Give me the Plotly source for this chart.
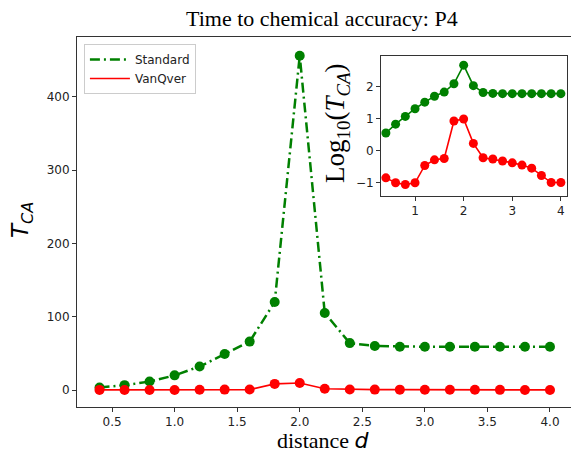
import numpy as np
import plotly.graph_objects as go

distance = [0.4, 0.6, 0.8, 1.0, 1.2, 1.4, 1.6, 1.8, 2.0, 2.2, 2.4, 2.6, 2.8, 3.0, 3.2, 3.4, 3.6, 3.8, 4.0]
standard = [3.5, 6.6, 11.5, 20, 32, 49, 66, 120, 456, 105, 64, 60, 59, 59, 59, 59, 59, 59, 59]
vanqver = [0.14, 0.098, 0.087, 0.098, 0.34, 0.51, 0.56, 8.3, 9.6, 1.66, 0.59, 0.54, 0.47, 0.41,
           0.35, 0.28, 0.166, 0.10, 0.10]

log_standard = list(np.log10(standard))
log_vanqver = list(np.log10(vanqver))

GREEN = "#008000"
RED = "#ff0000"
AX = "#333333"
DASH = "10px,4px,2px,4px"

fig = go.Figure()

# main
fig.add_trace(go.Scatter(x=distance, y=standard, mode="lines+markers", showlegend=False,
                         line=dict(color=GREEN, width=2.5, dash=DASH),
                         marker=dict(color=GREEN, size=10), xaxis="x", yaxis="y"))
fig.add_trace(go.Scatter(x=distance, y=vanqver, mode="lines+markers", showlegend=False,
                         line=dict(color=RED, width=1.6),
                         marker=dict(color=RED, size=10), xaxis="x", yaxis="y"))
# legend entries
fig.add_trace(go.Scatter(x=[None], y=[None], mode="lines", name="Standard",
                         line=dict(color=GREEN, width=2.5, dash=DASH)))
fig.add_trace(go.Scatter(x=[None], y=[None], mode="lines", name="VanQver",
                         line=dict(color=RED, width=1.6)))

# inset
fig.add_trace(go.Scatter(x=distance, y=log_standard, mode="lines+markers", showlegend=False,
                         line=dict(color=GREEN, width=1.6),
                         marker=dict(color=GREEN, size=9), xaxis="x2", yaxis="y2"))
fig.add_trace(go.Scatter(x=distance, y=log_vanqver, mode="lines+markers", showlegend=False,
                         line=dict(color=RED, width=1.6),
                         marker=dict(color=RED, size=9), xaxis="x2", yaxis="y2"))

axis_common = dict(showline=True, linecolor=AX, linewidth=1, showgrid=False,
                   zeroline=False, ticks="outside", ticklen=4, tickwidth=1, tickcolor=AX,
                   tickfont=dict(family="DejaVu Sans", size=12, color="#222"))

fig.update_layout(
    width=571, height=452,
    margin=dict(l=77, r=0, t=37, b=45),
    paper_bgcolor="white", plot_bgcolor="white",
    xaxis=dict(domain=[0, 1], range=[0.22, 4.168], tickvals=[0.5, 1.0, 1.5, 2.0, 2.5, 3.0, 3.5, 4.0],
               ticktext=["0.5", "1.0", "1.5", "2.0", "2.5", "3.0", "3.5", "4.0"], mirror=True,
               **axis_common),
    yaxis=dict(domain=[0, 1], range=[-23.2, 481.6], tickvals=[0, 100, 200, 300, 400], mirror=False,
               **axis_common),
    xaxis2=dict(domain=[0.6154, 0.9913], range=[0.3, 4.12], anchor="y2", tickvals=[1, 2, 3, 4],
                mirror=True, **axis_common),
    yaxis2=dict(domain=[0.5703, 0.9473], range=[-1.42, 2.93], anchor="x2", tickvals=[-1, 0, 1, 2],
                mirror=True, **axis_common),
    showlegend=True,
    legend=dict(x=0.014, y=0.981, xanchor="left", yanchor="top", bgcolor="white",
                bordercolor="#cccccc", borderwidth=1,
                font=dict(family="DejaVu Sans", size=12, color="#222"),
                tracegroupgap=0, itemwidth=40),
    annotations=[
        dict(text="Time to chemical accuracy: P4", xref="paper", yref="paper", x=0.495,
             y=1 + (37 - 18) / 370, xanchor="center", yanchor="middle", showarrow=False,
             font=dict(family="Liberation Serif", size=22, color="black")),
        dict(text="distance <span style='font-family:DejaVu Sans'><i>d</i></span>",
             xref="paper", yref="paper", x=(323 - 77) / 494,
             y=-(440 - 407) / 370, xanchor="center", yanchor="middle", showarrow=False,
             font=dict(family="Liberation Serif", size=22, color="black")),
        dict(text="<i>T</i><sub><i>CA</i></sub>", xref="paper", yref="paper", x=-(77 - 22) / 494,
             y=(407 - 220) / 370, xanchor="center", yanchor="middle", showarrow=False, textangle=-90,
             font=dict(family="DejaVu Sans", size=23, color="black")),
        dict(text="Log<sub>10</sub>(<i>T</i><sub><i>CA</i></sub>)", xref="paper", yref="paper",
             x=(337 - 77) / 494, y=(407 - 123) / 370, xanchor="center", yanchor="middle",
             showarrow=False, textangle=-90,
             font=dict(family="Liberation Serif", size=27, color="black")),
    ],
)

fig.write_html("out.html", config={"displayModeBar": False},
               post_script="document.body.style.margin='0';")
